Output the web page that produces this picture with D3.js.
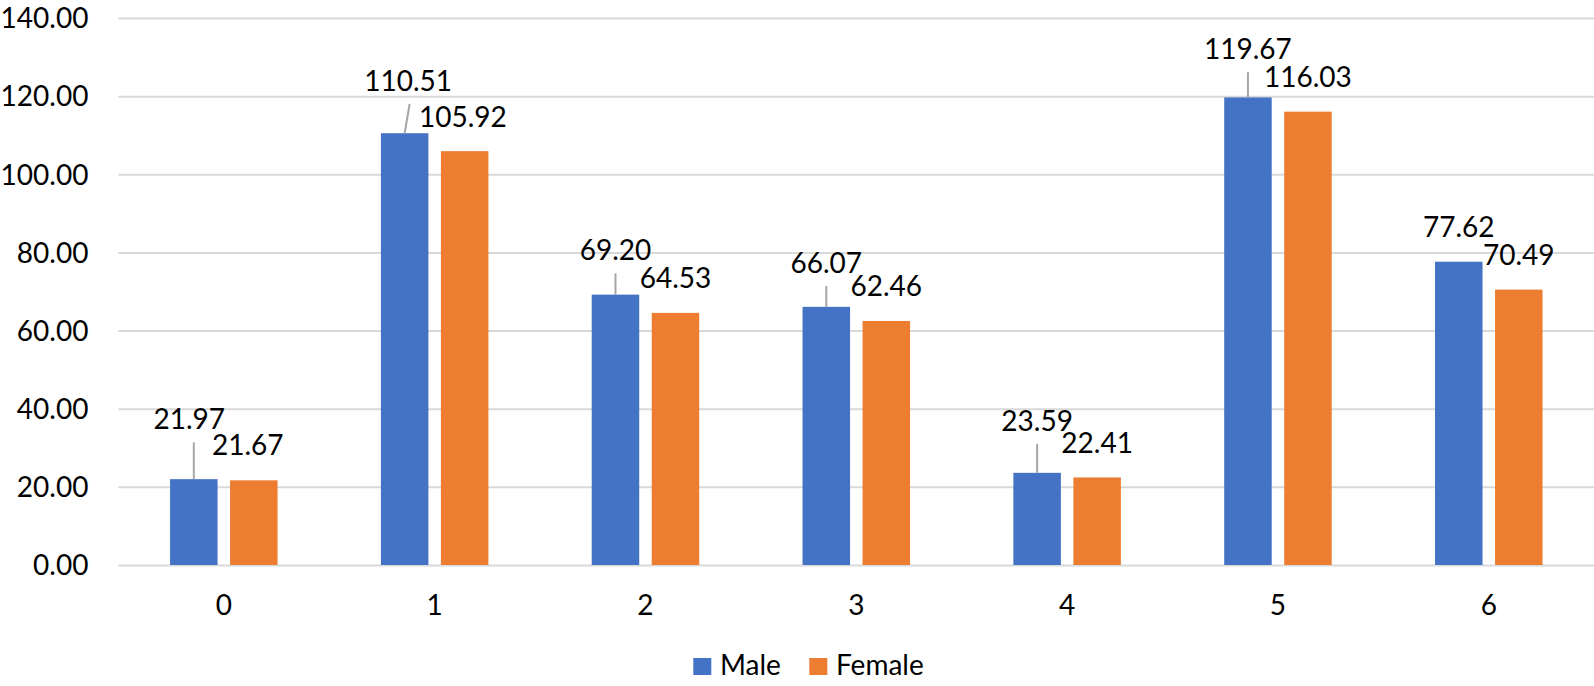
<!DOCTYPE html>
<html>
<head>
<meta charset="utf-8">
<script src="https://cdn.jsdelivr.net/npm/d3@7"></script>
<style>
  html, body { margin: 0; padding: 0; background: #ffffff; }
  svg { display: block; font-family: Lato, "Open Sans", "Liberation Sans", sans-serif; }
</style>
</head>
<body>
<svg id="chart" width="1594" height="686"></svg>
<script>
// ---- data ----
const categories = ["0", "1", "2", "3", "4", "5", "6"];
const seriesNames = ["Male", "Female"];
const maleValues = [21.97, 110.51, 69.20, 66.07, 23.59, 119.67, 77.62];
const femaleValues = [21.67, 105.92, 64.53, 62.46, 22.41, 116.03, 70.49];
const yTicks = [0, 20, 40, 60, 80, 100, 120, 140];

// ---- layout (label nudges in px, as placed in the original) ----
const maleLabelNudge = [[-4.6, -25.3], [3.5, -17.7], [0, -9.7], [0, -9.4], [0, -17.5], [0, -13.7], [0, 0]];
const femaleLabelNudge = [[-6, -1], [-1.7, 0], [0, 0], [0, 0], [0, 0], [0, 0], [0, 0]];

const colors = { Male: "#4472C4", Female: "#ED7D31" };
const fontSize = 28;

const svg = d3.select("#chart");
const plot = { left: 118.4, right: 1594.2, top: 18, bottom: 565 };

const x0 = d3.scaleBand().domain(categories).range([plot.left, plot.right]).paddingInner(0).paddingOuter(0);
const groupW = 107.5;
const x1 = d3.scaleBand().domain(seriesNames)
  .range([x0.bandwidth() / 2 - groupW / 2, x0.bandwidth() / 2 + groupW / 2])
  .paddingInner(12.5 / 60).paddingOuter(0);
const y = d3.scaleLinear().domain([0, 140]).range([plot.bottom, plot.top]);

// gridlines + y tick labels
const yAxis = svg.append("g")
  .attr("transform", `translate(${plot.left},0)`)
  .call(d3.axisLeft(y).tickValues(yTicks).tickFormat(d3.format(".2f"))
        .tickSize(-(plot.right - plot.left)).tickPadding(30));
yAxis.select(".domain").remove();
yAxis.selectAll(".tick line").attr("stroke", "#d9d9d9").attr("stroke-width", 2);
yAxis.selectAll(".tick text").attr("fill", "#000").attr("font-size", fontSize)
  .attr("dy", "0.35em");
yAxis.attr("font-family", null).attr("font-size", null);

// x axis labels
const xAxis = svg.append("g")
  .attr("transform", `translate(0,${plot.bottom})`)
  .call(d3.axisBottom(x0).tickSize(0).tickPadding(30));
xAxis.select(".domain").remove();
xAxis.attr("font-family", null).attr("font-size", null);
xAxis.selectAll(".tick text").attr("fill", "#000").attr("font-size", fontSize);

// bars
const rows = categories.map((c, i) => ({
  cat: c,
  vals: [
    { s: "Male", v: maleValues[i], nudge: maleLabelNudge[i] },
    { s: "Female", v: femaleValues[i], nudge: femaleLabelNudge[i] }
  ]
}));

const groups = svg.append("g").selectAll("g").data(rows).join("g")
  .attr("transform", d => `translate(${x0(d.cat)},0)`);

groups.selectAll("rect").data(d => d.vals).join("rect")
  .attr("x", d => x1(d.s))
  .attr("y", d => y(d.v))
  .attr("width", x1.bandwidth())
  .attr("height", d => y(0) - y(d.v))
  .attr("fill", d => colors[d.s]);

// leader lines
groups.selectAll("line.leader").data(d => d.vals.filter(v => Math.abs(v.nudge[1]) > 5)).join("line")
  .attr("class", "leader")
  .attr("x1", d => {
    const bx = x1(d.s) + x1.bandwidth() / 2;
    return d.nudge[0] > 0 ? bx + d.nudge[0] + 1.5 : bx;
  })
  .attr("y1", d => y(d.v) - 24.5 + d.nudge[1] + 13)
  .attr("x2", d => x1(d.s) + x1.bandwidth() / 2)
  .attr("y2", d => y(d.v))
  .attr("stroke", "#a6a6a6")
  .attr("stroke-width", 2);

// value labels
groups.selectAll("text.val").data(d => d.vals).join("text")
  .attr("class", "val")
  .attr("x", d => x1(d.s) + x1.bandwidth() / 2 + d.nudge[0])
  .attr("y", d => y(d.v) - 24.5 + d.nudge[1])
  .attr("text-anchor", "middle")
  .attr("font-size", fontSize)
  .attr("fill", "#000")
  .text(d => d3.format(".2f")(d.v));

// legend
const legendItems = [
  { name: "Male", sx: 693.3, tx: 720 },
  { name: "Female", sx: 809.3, tx: 836 }
];
const legend = svg.append("g");
legend.selectAll("rect").data(legendItems).join("rect")
  .attr("x", d => d.sx).attr("y", 658).attr("width", 18).attr("height", 17)
  .attr("fill", d => colors[d.name]);
legend.selectAll("text").data(legendItems).join("text")
  .attr("x", d => d.tx).attr("y", 675)
  .attr("font-size", fontSize).attr("fill", "#000")
  .text(d => d.name);
</script>
</body>
</html>
